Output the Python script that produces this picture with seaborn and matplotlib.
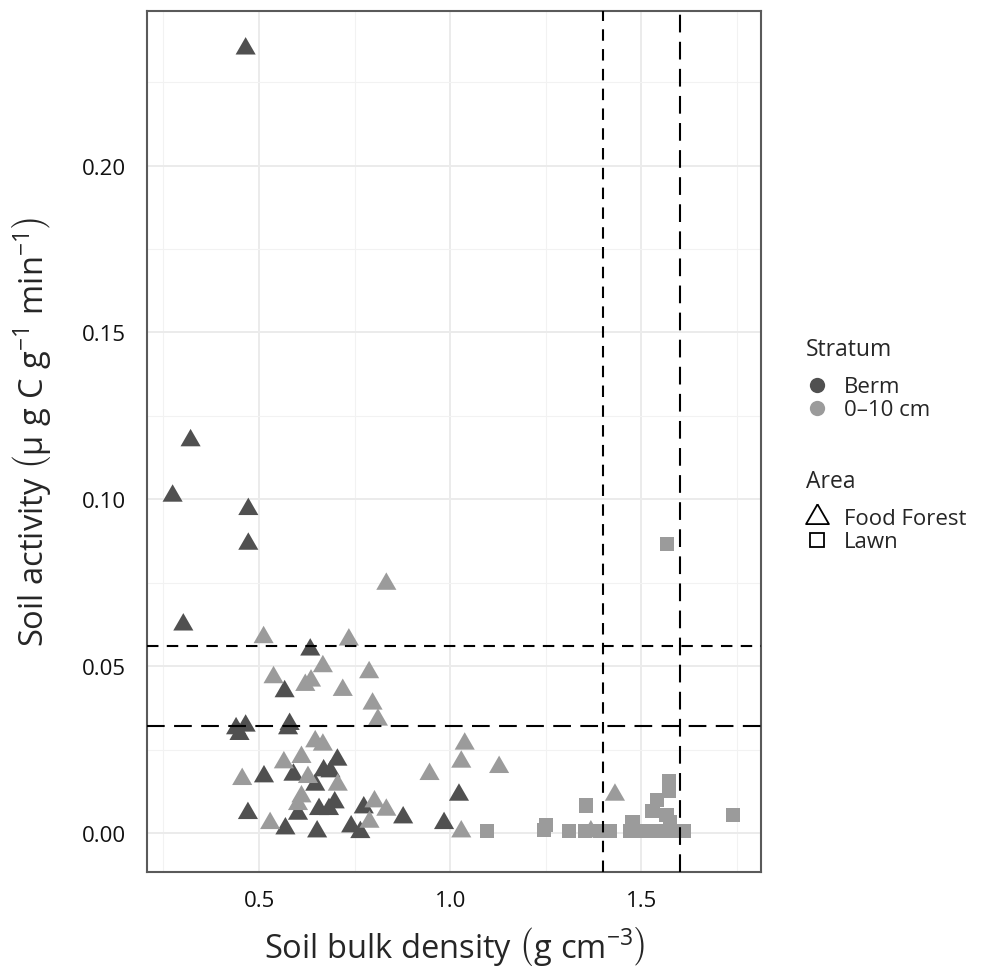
import numpy as np
import pandas as pd
import matplotlib
matplotlib.use("Agg")
import matplotlib.pyplot as plt
from matplotlib.lines import Line2D
from matplotlib.ticker import MultipleLocator
import seaborn as sns

# ------------------------------
# data
# ------------------------------

# Berm stratum (dark), all in the food forest
berm_ff_density = [0.465, 0.321, 0.274, 0.472, 0.472, 0.302, 0.634, 0.567, 0.465, 0.440,
                   0.449, 0.580, 0.576, 0.705, 0.669, 0.687, 0.590, 0.513, 0.647, 1.023,
                   0.698, 0.774, 0.657, 0.683, 0.471, 0.602, 0.877, 0.984, 0.741, 0.569,
                   0.652, 0.765]
berm_ff_activity = [0.2350, 0.1176, 0.1010, 0.0970, 0.0866, 0.0624, 0.0549, 0.0424, 0.0321, 0.0313,
                    0.0296, 0.0326, 0.0313, 0.0219, 0.0187, 0.0184, 0.0174, 0.0169, 0.0144, 0.0114,
                    0.0091, 0.0076, 0.0071, 0.0071, 0.0059, 0.0057, 0.0046, 0.0029, 0.0019, 0.0013,
                    0.0004, 0.0002]

# 0-10 cm stratum (light), food forest
top_ff_density = [0.833, 0.512, 0.735, 0.667, 0.788, 0.538, 0.636, 0.621, 0.719, 0.797,
                  0.811, 0.647, 0.667, 1.038, 0.611, 1.029, 0.565, 1.128, 0.946, 0.628,
                  0.456, 0.706, 1.431, 0.611, 0.802, 0.602, 0.833, 0.789, 0.529, 1.029,
                  1.368]
top_ff_activity = [0.0746, 0.0586, 0.0579, 0.0499, 0.0481, 0.0466, 0.0456, 0.0443, 0.0428, 0.0387,
                   0.0339, 0.0274, 0.0264, 0.0267, 0.0227, 0.0213, 0.0211, 0.0197, 0.0176, 0.0167,
                   0.0161, 0.0144, 0.0114, 0.0109, 0.0094, 0.0086, 0.0069, 0.0033, 0.0029, 0.0004,
                   0.0004]

# 0-10 cm stratum (light), lawn
top_lawn_density = [1.097, 1.245, 1.250, 1.311, 1.352, 1.355, 1.391, 1.417, 1.470, 1.477,
                    1.505, 1.529, 1.540, 1.540, 1.566, 1.573, 1.573, 1.575, 1.575, 1.610,
                    1.567, 1.739]
top_lawn_activity = [0.0005, 0.0008, 0.0023, 0.0005, 0.0005, 0.0082, 0.0005, 0.0005, 0.0005, 0.0033,
                     0.0005, 0.0066, 0.0005, 0.0099, 0.0054, 0.0155, 0.0125, 0.0005, 0.0033, 0.0005,
                     0.0866, 0.0053]

stratum_levels = ["Berm", "0–10 cm"]
area_levels = ["Food Forest", "Lawn"]
stratum_colors = {"Berm": "#505050", "0–10 cm": "#9b9b9b"}

ref_h_lines = [0.056, 0.032]
ref_v_lines = [1.4, 1.6]

x_ticks = [0.5, 1.0, 1.5]
x_tick_labels = ["0.5", "1.0", "1.5"]
y_ticks = [0.00, 0.05, 0.10, 0.15, 0.20]
y_tick_labels = ["0.00", "0.05", "0.10", "0.15", "0.20"]

# ------------------------------
# build the table
# ------------------------------

df = pd.concat([
    pd.DataFrame({"density": berm_ff_density, "activity": berm_ff_activity,
                  "Stratum": "Berm", "Area": "Food Forest"}),
    pd.DataFrame({"density": top_ff_density, "activity": top_ff_activity,
                  "Stratum": "0–10 cm", "Area": "Food Forest"}),
    pd.DataFrame({"density": top_lawn_density, "activity": top_lawn_activity,
                  "Stratum": "0–10 cm", "Area": "Lawn"}),
], ignore_index=True)

# ------------------------------
# style
# ------------------------------

sns.set_theme(style="white")
plt.rcParams["font.family"] = ["Open Sans", "DejaVu Sans"]
plt.rcParams["mathtext.fontset"] = "custom"
plt.rcParams["mathtext.rm"] = "Open Sans"
plt.rcParams["mathtext.it"] = "Open Sans:italic"
plt.rcParams["mathtext.bf"] = "Open Sans:bold"

# triangle centred on its centroid, like R's pch 17
tri = [(0.0, 1.0), (-0.866, -0.5), (0.866, -0.5), (0.0, 1.0)]

fig, ax = plt.subplots(figsize=(9.82, 9.70), dpi=100)
fig.subplots_adjust(left=147 / 982, right=761 / 982, top=1 - 12 / 970, bottom=1 - 873 / 970)

ff = df[df["Area"] == "Food Forest"]
lawn = df[df["Area"] == "Lawn"]

sns.scatterplot(data=ff, x="density", y="activity", hue="Stratum",
                hue_order=stratum_levels, palette=stratum_colors,
                marker=tri, s=280, linewidth=0, legend=False, ax=ax, zorder=3)
sns.scatterplot(data=lawn, x="density", y="activity", hue="Stratum",
                hue_order=stratum_levels, palette=stratum_colors,
                marker="s", s=105, linewidth=0, legend=False, ax=ax, zorder=3)

ax.axhline(ref_h_lines[0], color="black", lw=1.5, ls=(0, (5.5, 4)), zorder=4)
ax.axhline(ref_h_lines[1], color="black", lw=1.5, ls=(0, (8.5, 4.5)), zorder=4)
ax.axvline(ref_v_lines[0], color="black", lw=1.5, ls=(0, (5.5, 4)), zorder=4)
ax.axvline(ref_v_lines[1], color="black", lw=1.5, ls=(0, (8.5, 4.5)), zorder=4)

ax.set_xlim(0.207, 1.813)
ax.set_ylim(-0.0117, 0.2463)

ax.set_xticks(x_ticks)
ax.set_xticklabels(x_tick_labels)
ax.set_yticks(y_ticks)
ax.set_yticklabels(y_tick_labels)
ax.xaxis.set_minor_locator(MultipleLocator(0.25))
ax.yaxis.set_minor_locator(MultipleLocator(0.025))

ax.grid(True, which="major", color="#ebebeb", lw=1.4, zorder=0)
ax.grid(True, which="minor", color="#f2f2f2", lw=0.8, zorder=0)
ax.set_axisbelow(True)

ax.tick_params(which="major", length=8, width=1.4, color="#5a5a5a",
               labelsize=16, labelcolor="#111111", pad=5)
ax.tick_params(which="minor", length=0)
ax.tick_params(axis="y", pad=7)

for sp in ax.spines.values():
    sp.set_visible(True)
    sp.set_color("#5a5a5a")
    sp.set_linewidth(1.5)

ax.set_xlabel(r"Soil bulk density $\left(\mathrm{g\ cm^{-3}}\right)$", fontsize=23.5, labelpad=9)
ax.set_ylabel(r"Soil activity $\left(\mathrm{µ\ g\ C\ g^{-1}\ min^{-1}}\right)$", fontsize=23.5, labelpad=16)
ax.yaxis.set_label_coords(-0.153, 0.512)

# ------------------------------
# legends
# ------------------------------

strat_handles = [Line2D([], [], marker="o", ls="", markersize=11, markeredgewidth=0,
                        color=stratum_colors[k]) for k in stratum_levels]
leg1 = fig.legend(strat_handles, stratum_levels, title="Stratum", loc="upper left",
                  bbox_to_anchor=(806 / 982, 1 - 338 / 970), frameon=False,
                  fontsize=16, title_fontsize=16.5, handlelength=1.0, handletextpad=0.7,
                  labelspacing=0.1, borderpad=0, borderaxespad=0, alignment="left")
leg1._legend_box.sep = 11

area_handles = [
    Line2D([], [], marker=tri, ls="", markersize=19, markerfacecolor="none",
           markeredgecolor="black", markeredgewidth=1.3),
    Line2D([], [], marker="s", ls="", markersize=10, markerfacecolor="none",
           markeredgecolor="black", markeredgewidth=1.3),
]
leg2 = fig.legend(area_handles, area_levels, title="Area", loc="upper left",
                  bbox_to_anchor=(806 / 982, 1 - 470 / 970), frameon=False,
                  fontsize=16, title_fontsize=16.5, handlelength=1.0, handletextpad=0.7,
                  labelspacing=0.1, borderpad=0, borderaxespad=0, alignment="left")
leg2._legend_box.sep = 11

fig.savefig("out.png", dpi=100)
